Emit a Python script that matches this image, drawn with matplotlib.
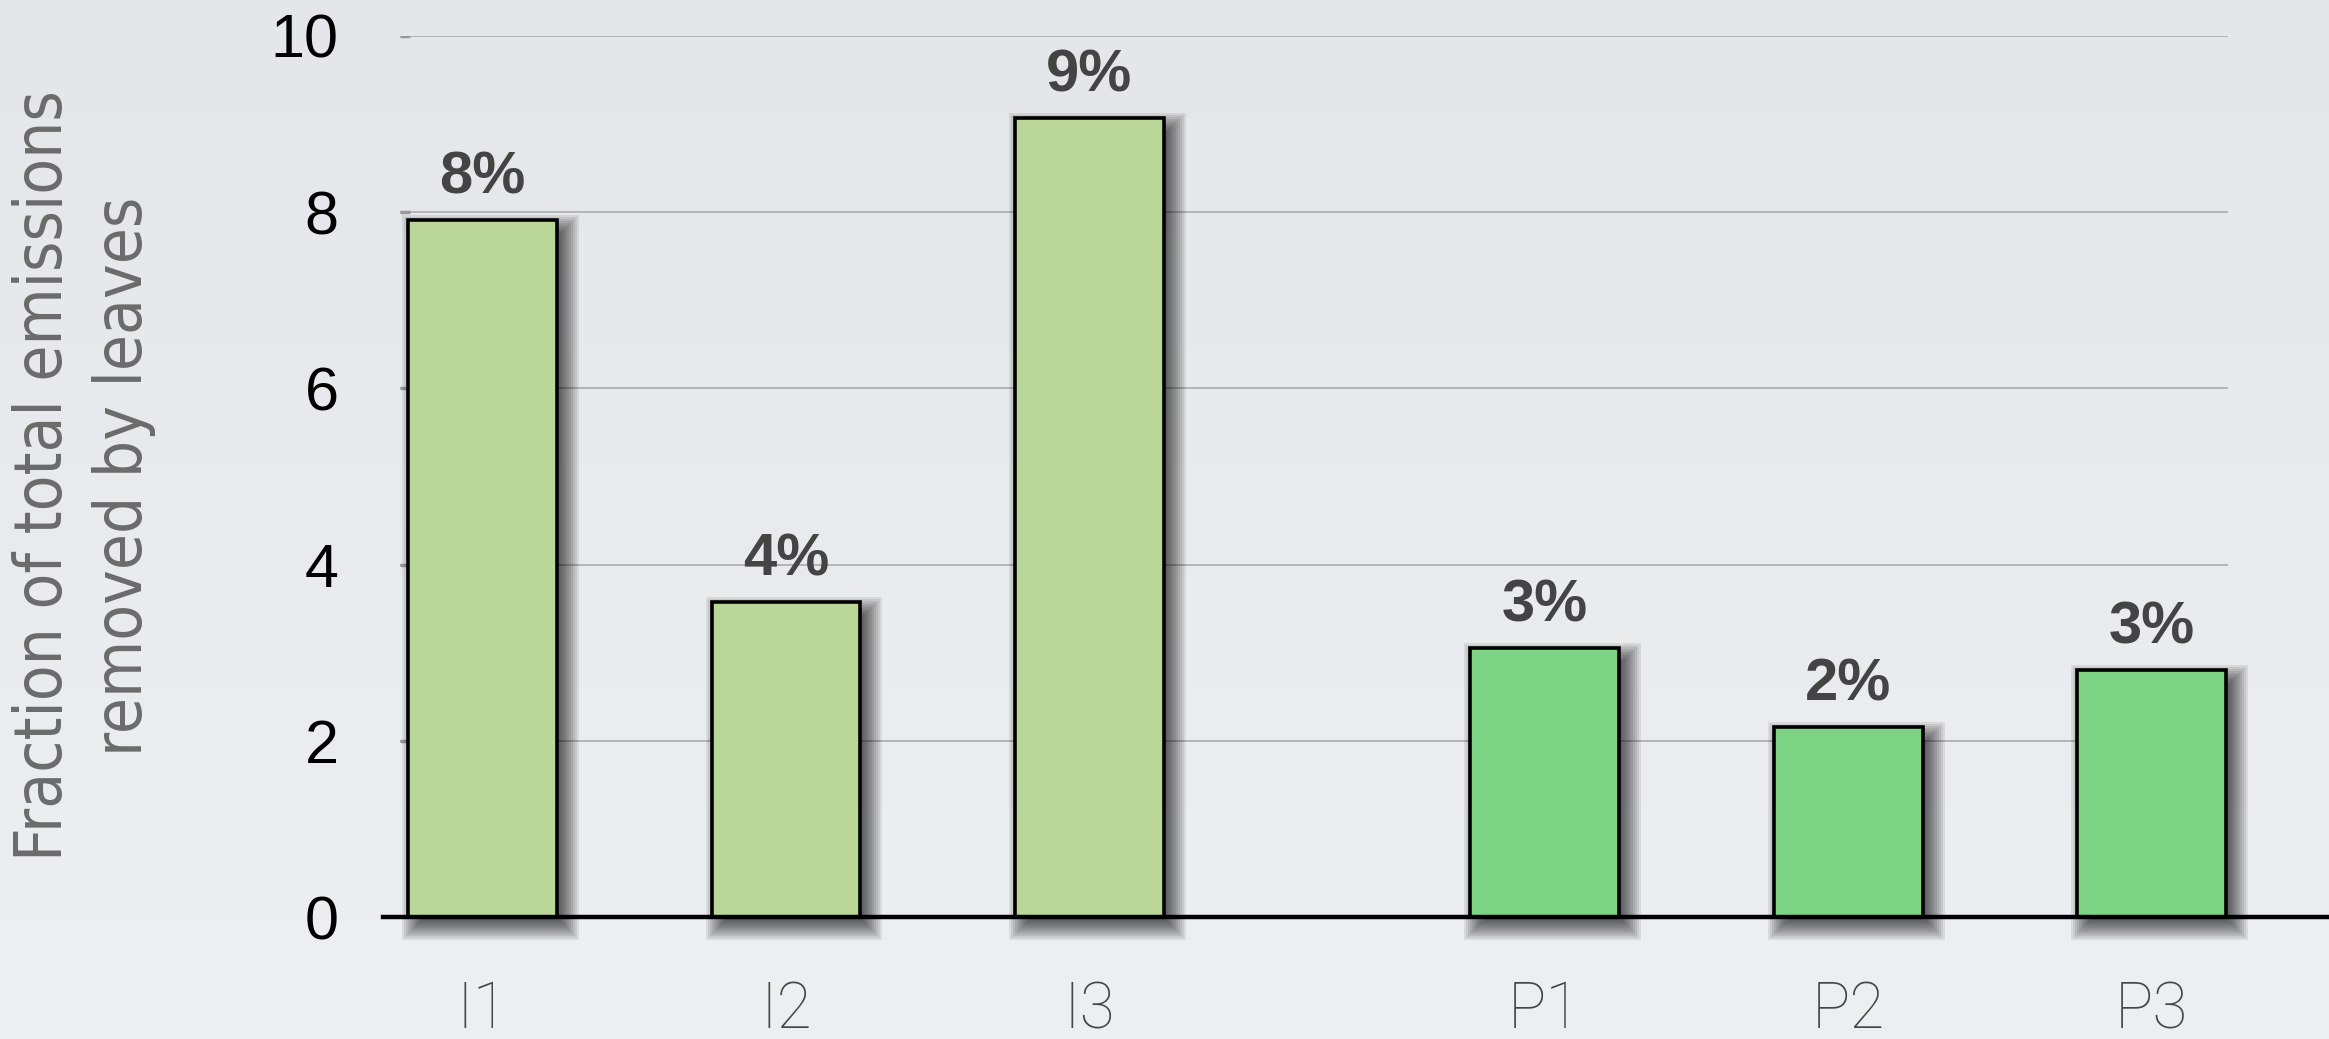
import numpy as np
import matplotlib
matplotlib.use("Agg")
import matplotlib.pyplot as plt

# data
categories = ["I1", "I2", "I3", "P1", "P2", "P3"]
positions = [0, 1, 2, 3.5, 4.5, 5.5]
values = [7.91, 3.58, 9.07, 3.05, 2.16, 2.80]
bar_labels = ["8%", "4%", "9%", "3%", "2%", "3%"]
bar_colors = ["#BAD799", "#BAD799", "#BAD799", "#7ED485", "#7ED485", "#7ED485"]
yticks = [0, 2, 4, 6, 8, 10]
ylabel_lines = ["Fraction of total emissions", "removed by leaves"]

W, H, DPI = 2329, 1039, 100
fig = plt.figure(figsize=(W / DPI, H / DPI), dpi=DPI)

# soft grey backdrop
bg = fig.add_axes([0, 0, 1, 1], zorder=-10)
grad = np.linspace(0, 1, 256).reshape(-1, 1)
bg.imshow(grad, aspect="auto", cmap=matplotlib.colors.LinearSegmentedColormap.from_list(
    "bg", ["#E4E6E9", "#EEEFF1"]), extent=[0, 1, 0, 1], origin="upper")
bg.set_axis_off()

ax_rect = [383 / W, 122 / H, (W - 383) / W, (917 - 36) / H]
ax = fig.add_axes(ax_rect)
ax.set_facecolor("none")
xlim, ylim = (-0.328, 6.084), (0, 10)
ax.set_xlim(*xlim)
ax.set_ylim(*ylim)

# gridlines stop short of the right edge, with small darker stubs at the left
grid_x0, grid_x1 = -0.272, 5.751
for y in yticks[1:]:
    ax.hlines(y, grid_x0, grid_x1, color="#ABABAB", lw=1.2, zorder=1)
    ax.hlines(y, grid_x0, grid_x0 + 0.033, color="#9A9A9A", lw=2.5, zorder=1)

bar_w = 0.49
# soft drop shadow: nested translucent rectangles (pixel sizes -> data units)
ux = (xlim[1] - xlim[0]) / (ax_rect[2] * W)
uy = (ylim[1] - ylim[0]) / (ax_rect[3] * H)
vals = np.array(values)
dx, dy = 8, 9
for e in range(-8, 15, 2):
    ax.bar(np.array(positions) + dx * ux, vals + 2 * e * uy, bottom=-dy * uy - e * uy,
           width=bar_w + 2 * e * ux, color="black", alpha=0.08, linewidth=0,
           zorder=2, clip_on=False)

ax.bar(positions, values, width=bar_w, color=bar_colors, edgecolor="black",
       linewidth=2.6, zorder=3, clip_on=False)

for x, v, t in zip(positions, values, bar_labels):
    ax.annotate(t, (x, v), xytext=(0, 19), textcoords="offset points",
                ha="center", va="baseline", fontsize=43, fontweight="bold",
                family="Liberation Sans", color="#444444", zorder=5)

ax.axhline(0, color="black", lw=3.2, zorder=4, clip_on=False)

for s in ax.spines.values():
    s.set_visible(False)

ax.set_yticks(yticks)
ax.set_yticklabels([str(t) for t in yticks], fontsize=44, family="Liberation Sans",
                   color="black")
ax.set_xticks(positions)
ax.set_xticklabels(categories, fontsize=46, family="Roboto", fontweight="light",
                   color="#454545")
ax.tick_params(axis="y", length=0, pad=32)
ax.tick_params(axis="x", length=0, pad=45)

for xpix, line in zip((44, 124), ylabel_lines):
    fig.text(xpix / W, 1 - 476 / H, line, rotation=90, ha="center", va="center",
             fontsize=47, family=["Liberation Sans Narrow", "DejaVu Sans"],
             fontstretch="condensed", color="#6B6B6B")

fig.savefig("out.png", dpi=DPI)
